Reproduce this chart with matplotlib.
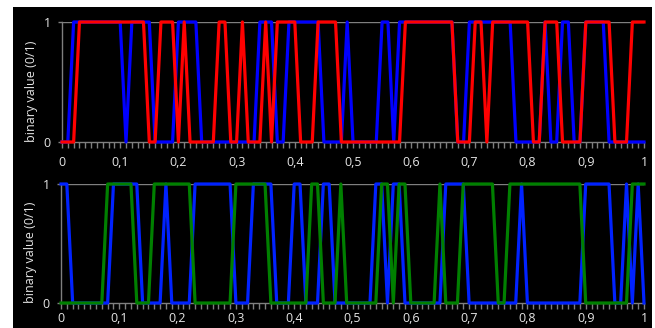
import numpy as np
import matplotlib
matplotlib.use("Agg")
import matplotlib.pyplot as plt
from matplotlib.patches import Rectangle
from matplotlib.ticker import FixedLocator, MultipleLocator

plt.rcParams['font.family'] = ['Open Sans', 'DejaVu Sans']

# sample positions (0.00 .. 1.00, step 0.01)
x = np.linspace(0, 1, 101)

top_blue = [0,0,1,1,1,1,1,1,1,1,
            1,0,1,1,1,1,0,0,0,0,
            1,1,1,1,0,0,0,0,0,0,
            0,0,0,0,1,1,1,0,0,1,
            1,1,1,1,1,0,0,0,0,1,
            0,0,0,0,0,1,1,0,1,1,
            1,1,1,1,1,1,1,1,0,0,
            1,1,1,1,1,1,1,1,0,0,
            0,0,0,1,0,0,1,1,0,0,
            1,1,1,1,0,0,0,0,0,0,
            0]
top_red = [0,0,0,1,1,1,1,1,1,1,
           1,1,1,1,1,0,0,1,1,1,
           0,1,0,0,0,0,0,1,1,0,
           0,1,0,0,0,1,0,1,1,1,
           1,0,0,0,1,1,1,1,0,0,
           0,0,0,0,0,0,0,0,0,1,
           1,1,1,1,1,1,1,1,0,0,
           0,1,1,0,1,1,1,1,1,1,
           1,0,0,1,1,1,0,0,0,0,
           1,1,1,1,1,0,0,0,1,1,
           1]
bottom_blue = [1,1,0,0,0,0,0,0,0,1,
               1,1,1,1,0,0,0,0,1,0,
               0,0,0,1,1,1,1,1,1,1,
               0,0,0,1,1,1,1,0,0,0,
               1,1,0,0,0,1,1,0,0,0,
               0,0,0,0,1,1,0,1,1,0,
               0,0,0,0,0,0,1,1,1,1,
               0,0,0,0,0,0,0,0,0,1,
               0,0,0,0,0,0,0,0,0,0,
               1,1,1,1,1,0,0,1,0,1,
               0]
bottom_green = [0,0,0,0,0,0,0,0,1,1,
                1,1,1,0,0,0,1,1,1,1,
                1,1,1,0,0,0,0,0,0,0,
                1,1,1,1,1,1,0,0,0,0,
                0,0,0,1,1,0,0,0,1,0,
                0,0,0,0,0,1,1,0,1,1,
                0,0,0,0,0,1,0,0,0,1,
                1,1,1,1,1,0,0,1,1,1,
                1,1,1,1,1,1,1,1,1,1,
                0,0,0,0,0,0,0,0,1,1,
                1]

xtick_values = [0, 0.1, 0.2, 0.3, 0.4, 0.5, 0.6, 0.7, 0.8, 0.9, 1]
xtick_labels = ["0", "0,1", "0,2", "0,3", "0,4", "0,5", "0,6", "0,7", "0,8", "0,9", "1"]
ytick_values = [0, 1]
ytick_labels = ["0", "1"]
ylabel = "binary value (0/1)"

W, H = 655, 328
fig = plt.figure(figsize=(W / 100, H / 100), dpi=100, facecolor='white')
fig.patches.append(Rectangle((13 / W, 0), 639 / W, 321 / H, transform=fig.transFigure,
                             facecolor='black', edgecolor='none', zorder=-10))

ax1 = fig.add_axes([62 / W, (H - 142) / H, 582 / W, 120 / H])
ax2 = fig.add_axes([61 / W, (H - 303) / H, 583 / W, 119 / H])

grey = '#7f7f7f'
txt = '#e6e6e6'
lw = 2.3

def style(ax, xpad):
    ax.set_facecolor('black')
    ax.set_xlim(0, 1)
    ax.set_ylim(0, 1)
    for s in ['top', 'right']:
        ax.spines[s].set_visible(False)
    for s in ['left', 'bottom']:
        ax.spines[s].set_color(grey)
        ax.spines[s].set_linewidth(1.0)
    ax.axhline(1, color=grey, lw=1.0, zorder=1)
    ax.xaxis.set_major_locator(FixedLocator(xtick_values))
    ax.set_xticklabels(xtick_labels)
    ax.xaxis.set_minor_locator(MultipleLocator(0.01))
    ax.yaxis.set_major_locator(FixedLocator(ytick_values))
    ax.set_yticklabels(ytick_labels)
    ax.tick_params(axis='x', which='both', direction='out', length=4, width=1,
                   color=grey, labelcolor=txt, labelsize=9, pad=xpad)
    ax.tick_params(axis='y', which='major', direction='out', length=3, width=1,
                   color=grey, labelcolor=txt, labelsize=9, pad=5)
    ax.text(-0.052, 0.0, ylabel, transform=ax.transAxes, rotation=90,
            rotation_mode='anchor', ha='left', va='center', color=txt, fontsize=9)

style(ax1, 6)
style(ax2, 2.5)

ax1.plot(x, top_blue, color='#0000ff', lw=lw, clip_on=False, zorder=3)
ax1.plot(x, top_red, color='#ff0000', lw=lw, clip_on=False, zorder=4)
ax2.plot(x, bottom_blue, color='#0022ff', lw=lw, clip_on=False, zorder=3)
ax2.plot(x, bottom_green, color='#008000', lw=lw, clip_on=False, zorder=4)

fig.savefig('out.png', dpi=100, facecolor='white')
